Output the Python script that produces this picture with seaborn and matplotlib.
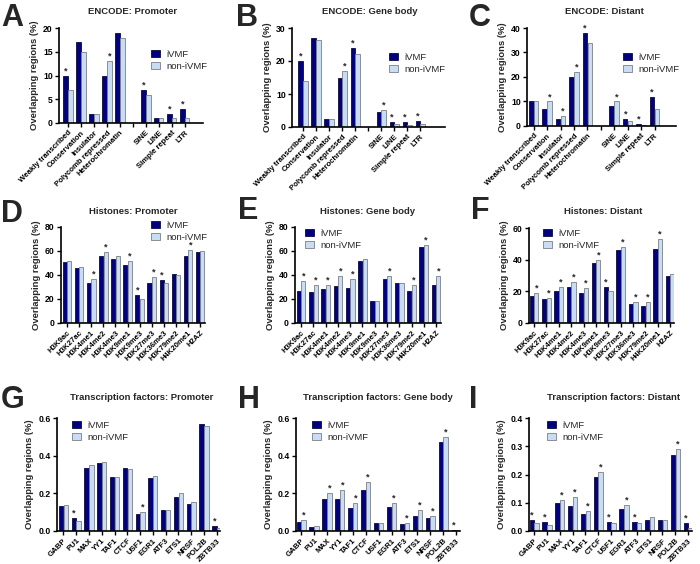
import pandas as pd
import matplotlib
matplotlib.use('Agg')
import matplotlib.pyplot as plt
from matplotlib.patches import Patch
import seaborn as sns

# Categories
encode_cats = ['Weakly transcribed', 'Conservation', 'Insulator', 'Polycomb repressed',
               'Heterochromatin', '', 'SINE', 'LINE', 'Simple repeat', 'LTR']
histone_cats = ['H3K9ac', 'H3K27ac', 'H3K4me1', 'H3K4me2', 'H3K4me3', 'H3K9me1',
                'H3K9me3', 'H3K27me3', 'H3K36me3', 'H3K79me2', 'H4K20me1', 'H2AZ']
tf_cats = ['GABP', 'PU1', 'MAX', 'YY1', 'TAF1', 'CTCF', 'USF1', 'EGR1', 'ATF3',
           'ETS1', 'NRSF', 'POL2B', 'ZBTB33']

# Panel A - ENCODE: Promoter
a_ivmf = [10, 17, 2, 10, 19, 0, 7, 1, 2, 3]
a_non = [7, 15, 2, 13, 18, 0, 6, 1, 1, 1]
a_star_ivmf = [1, 0, 0, 0, 0, 0, 1, 0, 1, 1]
a_star_non = [0, 0, 0, 1, 0, 0, 0, 0, 0, 0]

# Panel B - ENCODE: Gene body
b_ivmf = [20, 27, 2.4, 15, 24, 0, 4.5, 1.6, 1.5, 1.8]
b_non = [14, 26.3, 2.4, 17, 22, 0, 5.2, 1.0, 0.6, 1.0]
b_star_ivmf = [1, 0, 0, 0, 1, 0, 0, 1, 1, 1]
b_star_non = [0, 0, 0, 1, 0, 0, 1, 0, 0, 0]

# Panel C - ENCODE: Distant
c_ivmf = [10, 7, 3, 20, 38, 0, 8, 3, 0.8, 12]
c_non = [10, 10, 4, 22, 34, 0, 10, 2, 0.4, 7]
c_star_ivmf = [0, 0, 0, 0, 1, 0, 0, 1, 1, 1]
c_star_non = [0, 1, 1, 1, 0, 0, 1, 0, 0, 0]

# Panel D - Histones: Promoter
d_ivmf = [51, 46, 33, 56, 53, 48, 23, 33, 36, 41, 56, 59]
d_non = [52, 47, 37, 59, 56, 52, 20, 38, 33, 40, 61, 60]
d_star_ivmf = [0, 0, 0, 0, 0, 0, 1, 0, 1, 0, 0, 0]
d_star_non = [0, 0, 1, 1, 0, 1, 0, 1, 0, 0, 1, 0]

# Panel E - Histones: Gene body
e_ivmf = [27, 26, 28, 31, 29, 52, 18, 37, 33, 27, 63, 32]
e_non = [35, 32, 32, 39, 37, 53, 18, 39, 33, 32, 65, 39]
e_star_ivmf = [0] * 12
e_star_non = [1, 1, 1, 1, 1, 0, 0, 1, 0, 1, 1, 1]

# Panel F - Histones: Distant
f_ivmf = [17, 15, 20, 23, 19, 38, 23, 46, 12, 11, 47, 30]
f_non = [19, 16, 23, 26, 22, 40, 20, 48, 13, 13, 53, 31]
f_star_ivmf = [0, 0, 0, 0, 0, 0, 1, 0, 0, 0, 0, 0]
f_star_non = [1, 1, 1, 1, 1, 1, 0, 1, 1, 1, 1, 0]

# Panel G - Transcription factors: Promoter
g_ivmf = [0.135, 0.07, 0.333, 0.36, 0.288, 0.332, 0.088, 0.28, 0.11, 0.18, 0.145, 0.57, 0.028]
g_non = [0.14, 0.055, 0.353, 0.365, 0.285, 0.328, 0.103, 0.29, 0.11, 0.2, 0.153, 0.56, 0.015]
g_star_ivmf = [0, 1, 0, 0, 0, 0, 0, 0, 0, 0, 0, 0, 1]
g_star_non = [0, 0, 0, 0, 0, 0, 1, 0, 0, 0, 0, 0, 0]

# Panel H - Transcription factors: Gene body
h_ivmf = [0.05, 0.022, 0.17, 0.17, 0.12, 0.22, 0.04, 0.13, 0.037, 0.08, 0.07, 0.47, 0.005]
h_non = [0.057, 0.025, 0.2, 0.22, 0.15, 0.26, 0.04, 0.15, 0.045, 0.11, 0.08, 0.5, 0.003]
h_star_ivmf = [0, 0, 0, 0, 0, 0, 0, 0, 0, 0, 0, 0, 1]
h_star_non = [1, 0, 1, 1, 1, 1, 0, 1, 1, 1, 1, 1, 0]

# Panel I - Transcription factors: Distant
i_ivmf = [0.038, 0.033, 0.1, 0.09, 0.06, 0.19, 0.032, 0.078, 0.033, 0.04, 0.04, 0.27, 0.03]
i_non = [0.03, 0.02, 0.11, 0.12, 0.07, 0.21, 0.028, 0.093, 0.027, 0.05, 0.04, 0.29, 0.01]
i_star_ivmf = [1, 1, 0, 0, 0, 0, 1, 0, 1, 0, 0, 0, 1]
i_star_non = [0, 0, 1, 1, 1, 1, 0, 1, 0, 0, 0, 1, 0]

NAVY = '#02027e'
LIGHT = '#c8ddf3'
W, H = 700, 564

sns.set_style('ticks')
plt.rcParams['font.family'] = ['Liberation Sans', 'DejaVu Sans']
plt.rcParams['font.size'] = 6

fig = plt.figure(figsize=(W / 100, H / 100), dpi=100)


def px_rect(x0, x1, ytop, ybot):
    return [x0 / W, 1 - ybot / H, (x1 - x0) / W, (ybot - ytop) / H]


def draw_panel(box, cats, ivmf, non, star_i, star_n, title, title_pos,
               yticks, yfmt, xlim, leg_pos, letter, letter_pos):
    ax = fig.add_axes(px_rect(*box))
    df = pd.DataFrame({'cat': cats + cats,
                       'val': ivmf + non,
                       'group': ['iVMF'] * len(cats) + ['non-iVMF'] * len(cats)})
    sns.barplot(data=df, x='cat', y='val', hue='group', order=cats,
                hue_order=['iVMF', 'non-iVMF'], palette=[NAVY, LIGHT],
                saturation=1, width=0.74, gap=0.08, errorbar=None, ax=ax)
    edges = ['#0a0a40', '#7a7f88']
    stars = [star_i, star_n]
    for k, cont in enumerate(ax.containers):
        for bar in cont:
            bar.set_edgecolor(edges[k])
            bar.set_linewidth(0.6)
            idx = int(round(bar.get_x() + bar.get_width() / 2))
            if stars[k][idx]:
                ax.annotate('*', xy=(bar.get_x() + bar.get_width() / 2, bar.get_height()),
                            xytext=(0, 0.3), textcoords='offset points',
                            ha='center', va='bottom', fontsize=6.5, fontweight='bold')
    if ax.get_legend() is not None:
        ax.get_legend().remove()

    ax.set_ylim(yticks[0], yticks[-1])
    ax.set_yticks(yticks)
    ax.set_yticklabels([yfmt.format(t) for t in yticks], fontweight='bold', fontsize=6.2)
    ax.set_xlim(*xlim)
    ax.set_xticks(range(len(cats)))
    ax.set_xticklabels(cats, rotation=45, ha='right', rotation_mode='anchor',
                       fontweight='bold', fontsize=5.6)
    ax.set_xlabel('')
    ax.set_ylabel('Overlapping regions (%)', fontweight='bold', fontsize=6.8, labelpad=3)
    sns.despine(ax=ax)
    for s in ['left', 'bottom']:
        ax.spines[s].set_linewidth(1.2)
        ax.spines[s].set_color('black')
    ax.tick_params(direction='out', length=3, width=1.0, pad=1.5, colors='black')

    fig.text(title_pos[0] / W, 1 - title_pos[1] / H, title, ha='center', va='center',
             fontsize=6.8, fontweight='bold')
    fig.text(letter_pos[0] / W, 1 - letter_pos[1] / H, letter, ha='left', va='baseline',
             fontsize=22, fontweight='bold')

    handles = [Patch(facecolor=NAVY, edgecolor=edges[0], linewidth=0.6),
               Patch(facecolor=LIGHT, edgecolor=edges[1], linewidth=0.6)]
    fig.legend(handles, ['iVMF', 'non-iVMF'], loc='upper left',
               bbox_to_anchor=(leg_pos[0] / W, 1 - leg_pos[1] / H),
               frameon=False, fontsize=6.8, handlelength=1.0, handleheight=0.8,
               handletextpad=0.6, labelspacing=0.3, borderpad=0, borderaxespad=0)
    return ax


# row 1: ENCODE
draw_panel((59, 203, 28, 123), encode_cats, a_ivmf, a_non, a_star_ivmf, a_star_non,
           'ENCODE: Promoter', (133, 12), [0, 5, 10, 15, 20], '{:g}', (-0.7, 10.4),
           (151, 50), 'A', (1, 26))
draw_panel((292, 445, 28, 127), encode_cats, b_ivmf, b_non, b_star_ivmf, b_star_non,
           'ENCODE: Gene body', (370, 12), [0, 10, 20, 30], '{:g}', (-0.85, 10.9),
           (389, 53), 'B', (236, 26))
draw_panel((527, 676, 28, 126), encode_cats, c_ivmf, c_non, c_star_ivmf, c_star_non,
           'ENCODE: Distant', (604, 12), [0, 10, 20, 30, 40], '{:g}', (-0.5, 10.6),
           (623, 53), 'C', (469, 26))

# row 2: Histones
draw_panel((61, 205, 227, 323), histone_cats, d_ivmf, d_non, d_star_ivmf, d_star_non,
           'Histones: Promoter', (133, 212), [0, 20, 40, 60, 80], '{:g}', (-0.5, 11.4),
           (151, 221), 'D', (1, 222))
draw_panel((295, 441, 227, 323), histone_cats, e_ivmf, e_non, e_star_ivmf, e_star_non,
           'Histones: Gene body', (368, 212), [0, 20, 40, 60, 80], '{:g}', (-0.5, 11.4),
           (305, 229), 'E', (238, 219))
draw_panel((529, 674, 228, 323), histone_cats, f_ivmf, f_non, f_star_ivmf, f_star_non,
           'Histones: Distant', (603, 212), [0, 20, 40, 60], '{:g}', (-0.4, 11.3),
           (543, 229), 'F', (471, 219))

# row 3: Transcription factors
draw_panel((57, 220, 418, 531), tf_cats, g_ivmf, g_non, g_star_ivmf, g_star_non,
           'Transcription factors: Promoter', (142, 398), [0, 0.2, 0.4, 0.6], '{:.1f}',
           (-0.5, 12.25), (72, 421), 'G', (1, 408))
draw_panel((296, 460, 418, 531), tf_cats, h_ivmf, h_non, h_star_ivmf, h_star_non,
           'Transcription factors: Gene body', (378, 398), [0, 0.2, 0.4, 0.6], '{:.1f}',
           (-0.4, 12.3), (312, 421), 'H', (238, 408))
draw_panel((529, 692, 418, 531), tf_cats, i_ivmf, i_non, i_star_ivmf, i_star_non,
           'Transcription factors: Distant', (614, 398), [0, 0.1, 0.2, 0.3, 0.4], '{:.1f}',
           (-0.4, 12.3), (547, 421), 'I', (469, 408))

fig.savefig('out.png', dpi=100)
